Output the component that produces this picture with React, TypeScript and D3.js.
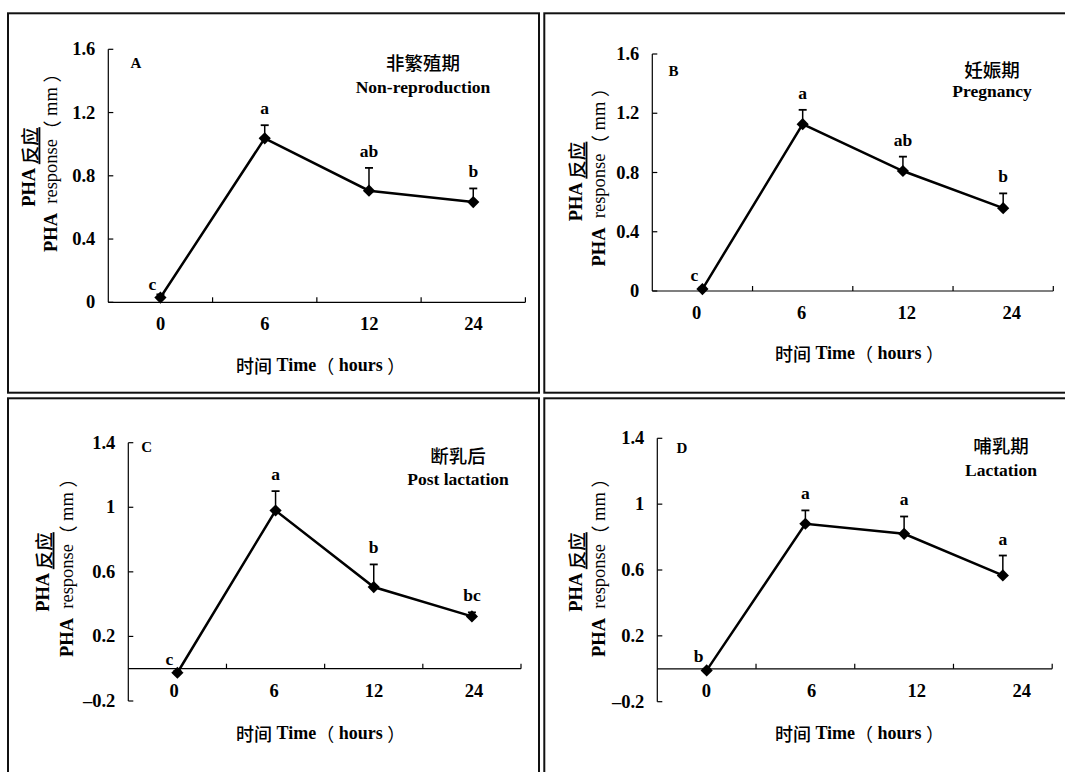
import React from "react";
import * as d3 from "d3";

// ---- data ----
const timeLabels = ["0", "6", "12", "24"];

const meanA = [0.03, 1.037, 0.706, 0.634];
const errA = [0.02, 0.083, 0.144, 0.086];
const lettersA = ["c", "a", "ab", "b"];

const meanB = [0.013, 1.126, 0.81, 0.559];
const errB = [0.01, 0.097, 0.097, 0.1];
const lettersB = ["c", "a", "ab", "b"];

const meanC = [-0.025, 0.98, 0.506, 0.324];
const errC = [0.01, 0.12, 0.14, 0.025];
const lettersC = ["c", "a", "b", "bc"];

const meanD = [-0.01, 0.881, 0.82, 0.567];
const errD = [0.01, 0.081, 0.105, 0.121];
const lettersD = ["b", "a", "a", "a"];

const ticksAB = [0, 0.4, 0.8, 1.2, 1.6];
const ticksCD = [-0.2, 0.2, 0.6, 1, 1.4];

// ---- layout ----
const panels = [
  {
    id: "A", mean: meanA, err: errA, letters: lettersA, ticks: ticksAB,
    cn: "非繁殖期", en: "Non-reproduction",
    x0: 108.3, x1: 525.4, dom: [0, 1.6], rng: [302.3, 49.3],
    labelRange: [160.5, 473.5],
    titleX: 423, titleY1: 62, titleY2: 87, idX: 135.8, idY: 63,
    yl1X: 28.5, yl2X: 51, ylY: 167, xlX: 320.7, xlY: 365,
    border: [8, 13.3, 539, 392.7],
  },
  {
    id: "B", mean: meanB, err: errB, letters: lettersB, ticks: ticksAB,
    cn: "妊娠期", en: "Pregnancy",
    x0: 652.3, x1: 1053.3, dom: [0, 1.6], rng: [291, 54],
    labelRange: [696.6, 1011.7],
    titleX: 992, titleY1: 69, titleY2: 91, idX: 673.6, idY: 71,
    yl1X: 575.6, yl2X: 599.2, ylY: 181.5, xlX: 859.5, xlY: 353,
    border: [544.3, 13.3, 1080, 392.7],
  },
  {
    id: "C", mean: meanC, err: errC, letters: lettersC, ticks: ticksCD,
    cn: "断乳后", en: "Post lactation",
    x0: 128.3, x1: 521, dom: [-0.2, 1.4], rng: [701, 442.7],
    labelRange: [174, 474],
    titleX: 458, titleY1: 455, titleY2: 479, idX: 146.7, idY: 446.7,
    yl1X: 42.6, yl2X: 66.5, ylY: 572, xlX: 320.7, xlY: 733,
    border: [8, 398.3, 539, 790],
  },
  {
    id: "D", mean: meanD, err: errD, letters: lettersD, ticks: ticksCD,
    cn: "哺乳期", en: "Lactation",
    x0: 657.3, x1: 1052.2, dom: [-0.2, 1.4], rng: [701.7, 438.3],
    labelRange: [706.4, 1021.8],
    titleX: 1001, titleY1: 445, titleY2: 470, idX: 682, idY: 448.3,
    yl1X: 575.6, yl2X: 599.2, ylY: 572, xlX: 859.5, xlY: 733,
    border: [544.3, 398.3, 1080, 790],
  },
];

const SERIF = "'Liberation Serif', 'Times New Roman', 'Noto Sans CJK SC', serif";
const CJK = "'Noto Sans CJK SC', sans-serif";

function Panel({ p }: { p: any }) {
  const x = d3.scaleBand<string>().domain(timeLabels).range([p.x0, p.x1]).padding(0);
  const xl = d3.scalePoint<string>().domain(timeLabels).range(p.labelRange);
  const y = d3.scaleLinear().domain(p.dom).range(p.rng);
  const cx = (t: string) => (x(t) as number) + x.bandwidth() / 2;
  const axisY = y(0);
  const pts = timeLabels.map((t, i) => [cx(t), y(p.mean[i])] as [number, number]);
  const line = d3.line()(pts) as string;
  const diamond = d3.symbol().type(d3.symbolDiamond2).size(95)() as string;
  const [bx0, by0, bx1, by1] = p.border;
  return (
    <g>
      <rect x={bx0} y={by0} width={bx1 - bx0} height={by1 - by0} fill="none" stroke="#111" strokeWidth={2} />
      {/* y axis */}
      <line x1={p.x0} x2={p.x0} y1={y(p.dom[0])} y2={y(p.dom[1])} stroke="#000" strokeWidth={1.2} />
      {p.ticks.map((v: number) => (
        <g key={v}>
          <line x1={p.x0} x2={p.x0 + 5} y1={y(v)} y2={y(v)} stroke="#000" strokeWidth={1.2} />
          <text x={p.x0 - 13} y={y(v)} textAnchor="end" dominantBaseline="central"
            fontFamily={SERIF} fontWeight="bold" fontSize={18.5}>{v < 0 ? "\u2013" + String(Math.abs(v)) : String(v)}</text>
        </g>
      ))}
      {/* x axis */}
      <line x1={p.x0} x2={p.x1} y1={axisY} y2={axisY} stroke="#000" strokeWidth={1.2} />
      {timeLabels.map((t) => (
        <line key={"t" + t} x1={(x(t) as number) + x.bandwidth()} x2={(x(t) as number) + x.bandwidth()}
          y1={axisY} y2={axisY - 5} stroke="#000" strokeWidth={1.2} />
      ))}
      {timeLabels.map((t) => (
        <text key={"l" + t} x={xl(t)} y={axisY + 22} textAnchor="middle" dominantBaseline="central"
          fontFamily={SERIF} fontWeight="bold" fontSize={18.5}>{t}</text>
      ))}
      {/* error bars */}
      {timeLabels.map((t, i) => {
        const top = y(p.mean[i] + p.err[i]);
        return (
          <g key={"e" + t}>
            <line x1={cx(t)} x2={cx(t)} y1={y(p.mean[i])} y2={top} stroke="#000" strokeWidth={1.5} />
            <line x1={cx(t) - 4} x2={cx(t) + 4} y1={top} y2={top} stroke="#000" strokeWidth={1.8} />
          </g>
        );
      })}
      <path d={line} fill="none" stroke="#000" strokeWidth={2.5} />
      {pts.map((pt, i) => (
        <path key={"m" + i} d={diamond} transform={`translate(${pt[0]},${pt[1]})`} fill="#000" />
      ))}
      {/* significance letters */}
      {timeLabels.map((t, i) => {
        const first = i === 0;
        const lx = cx(t) + (first ? -8 : 0);
        const ly = first ? y(p.mean[i]) - 14 : y(p.mean[i] + p.err[i]) - 17;
        return (
          <text key={"s" + t} x={lx} y={ly} textAnchor="middle" dominantBaseline="central"
            fontFamily={SERIF} fontWeight="bold" fontSize={17.5}>{p.letters[i]}</text>
        );
      })}
      {/* panel id & titles */}
      <text x={p.idX} y={p.idY} textAnchor="middle" dominantBaseline="central"
        fontFamily={SERIF} fontWeight="bold" fontSize={15}>{p.id}</text>
      <text x={p.titleX} y={p.titleY1} textAnchor="middle" dominantBaseline="central"
        fontFamily={CJK} fontWeight={500} fontSize={18.5}>{p.cn}</text>
      <text x={p.titleX} y={p.titleY2} textAnchor="middle" dominantBaseline="central"
        fontFamily={SERIF} fontWeight="bold" fontSize={17.5}>{p.en}</text>
      {/* y labels */}
      <text transform={`translate(${p.yl1X},${p.ylY}) rotate(-90)`} textAnchor="middle" dominantBaseline="central"
        fontFamily={SERIF} fontWeight="bold" fontSize={18.5}>
        PHA <tspan fontFamily={CJK} fontWeight={500} textDecoration="underline">反应</tspan>
      </text>
      <text transform={`translate(${p.yl2X},${p.ylY - 9}) rotate(-90)`} textAnchor="middle" dominantBaseline="central"
        fontFamily={SERIF} fontSize={18.5}>
        <tspan fontWeight="bold">PHA</tspan>{"\u00a0\u00a0response"}<tspan fontFamily={CJK}>（</tspan>{"\u00a0mm\u00a0"}<tspan fontFamily={CJK}>）</tspan>
      </text>
      {/* x label */}
      <text x={p.xlX} y={p.xlY} textAnchor="middle" dominantBaseline="central" fontFamily={SERIF} fontSize={18}>
        <tspan fontFamily={CJK} fontWeight={500}>时间</tspan>
        <tspan fontWeight="bold">{"\u00a0Time"}</tspan>
        <tspan fontFamily={CJK}>（</tspan>
        <tspan fontWeight="bold">{"\u00a0hours\u00a0"}</tspan>
        <tspan fontFamily={CJK}>）</tspan>
      </text>
    </g>
  );
}

export default function App() {
  return (
    <svg width={1065} height={772} style={{ position: "absolute", left: 0, top: 0, background: "#fff" }}>
      <rect x={0} y={0} width={1065} height={772} fill="#fff" />
      {panels.map((p) => (
        <Panel key={p.id} p={p} />
      ))}
    </svg>
  );
}
